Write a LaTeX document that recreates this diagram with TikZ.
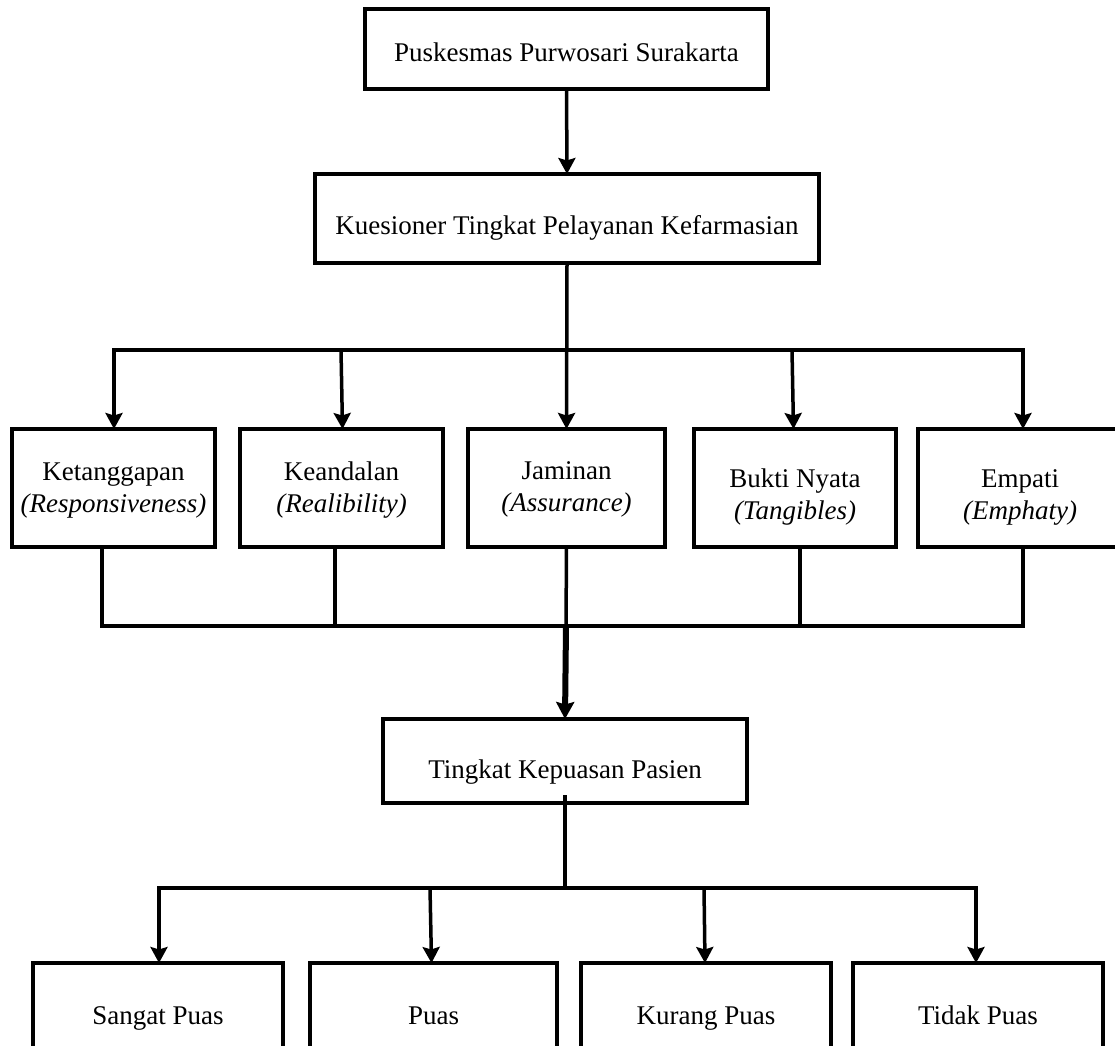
\documentclass[tikz,border=0pt]{standalone}
\usepackage{fontspec}
\setmainfont{Liberation Serif}
\usetikzlibrary{arrows.meta}
\begin{document}
\begin{tikzpicture}[x=1pt,y=-1pt,
  box/.style={draw, line width=3.5pt, rectangle, inner sep=0pt, outer sep=0pt},
  lbl/.style={font=\fontsize{27}{32}\selectfont, inner sep=0pt, anchor=base},
  conn/.style={line width=3.5pt, line cap=rect},
  arr/.style={line width=3.5pt, -{Stealth[length=16pt,width=17pt,inset=2.5pt]}},
  thickarr/.style={line width=6pt, -{Stealth[length=17pt,width=18pt,inset=2.5pt]}}]
\useasboundingbox (0,0) rectangle (1115,1045);
\fill[white] (0,0) rectangle (1115,1045);
% top boxes
\node[box, minimum width=403pt, minimum height=80pt] (top) at (566.5,49) {};
\node[lbl] (ttop) at (566.5,61) {Puskesmas Purwosari Surakarta};
\node[box, minimum width=504pt, minimum height=89pt] (kue) at (567,218.5) {};
\node[lbl] (tkue) at (567,234) {Kuesioner Tingkat Pelayanan Kefarmasian};
% row of five
\node[box, minimum width=203pt, minimum height=118pt] (A) at (113.5,488) {};
\node[box, minimum width=203pt, minimum height=118pt] (B) at (341.5,488) {};
\node[box, minimum width=197pt, minimum height=118pt] (C) at (566.5,488) {};
\node[box, minimum width=202pt, minimum height=118pt] (D) at (795,488) {};
\node[box, minimum width=204pt, minimum height=118pt] (E) at (1020,488) {};
\node[lbl] (tA1) at (113.5,480) {Ketanggapan};
\node[lbl] (tA2) at (113.5,512) {\textit{(Responsiveness)}};
\node[lbl] (tB1) at (341.5,480) {Keandalan};
\node[lbl] (tB2) at (341.5,512) {\textit{(Realibility)}};
\node[lbl] (tC1) at (566.5,479) {Jaminan};
\node[lbl] (tC2) at (566.5,511) {\textit{(Assurance)}};
\node[lbl] (tD1) at (795,487) {Bukti Nyata};
\node[lbl] (tD2) at (795,519) {\textit{(Tangibles)}};
\node[lbl] (tE1) at (1020,487) {Empati};
\node[lbl] (tE2) at (1020,519) {\textit{(Emphaty)}};
% satisfaction box
\node[box, minimum width=364pt, minimum height=84pt] (F) at (565,761) {};
\node[lbl] (tF) at (565,778) {Tingkat Kepuasan Pasien};
% bottom boxes
\node[box, minimum width=250pt, minimum height=102pt] (SA) at (158,1014) {};
\node[box, minimum width=247pt, minimum height=102pt] (SB) at (433.5,1014) {};
\node[box, minimum width=250pt, minimum height=102pt] (SC) at (706,1014) {};
\node[box, minimum width=250pt, minimum height=102pt] (SD) at (978,1014) {};
\node[lbl] (tSA) at (158,1024) {Sangat Puas};
\node[lbl] (tSB) at (433.5,1024) {Puas};
\node[lbl] (tSC) at (706,1024) {Kurang Puas};
\node[lbl] (tSD) at (978,1024) {Tidak Puas};
% coordinates
\coordinate (pA) at (114,350);
\coordinate (pB) at (341,350);
\coordinate (pD) at (792,350);
\coordinate (pE) at (1023,350);
\coordinate (lA) at (102,626);
\coordinate (lB) at (335,623);
\coordinate (lC) at (566,626);
\coordinate (lD) at (800,626);
\coordinate (lE) at (1023,626);
\coordinate (b2) at (565,888);
\coordinate (qA) at (159,888);
\coordinate (qB) at (430,888);
\coordinate (qC) at (704,888);
\coordinate (qD) at (976,888);
% connectors
\draw[arr] (top.south) -- (kue.north);
\draw[arr] (kue.south) -- (C.north);
\draw[conn] (pA) -- (pE);
\draw[arr] (pA) -- (pA |- A.north);
\draw[arr] (pB) -- ([xshift=1.5pt]pB |- B.north);
\draw[arr] (pD) -- ([xshift=1.5pt]pD |- D.north);
\draw[arr] (pE) -- (pE |- E.north);
\draw[conn] (lA |- A.south) -- (lA);
\draw[conn] (lB |- B.south) -- (lB);
\draw[conn] (C.south) -- (lC);
\draw[conn] (lD |- D.south) -- (lD);
\draw[conn] (lE |- E.south) -- (lE);
\draw[conn] (lA) -- (lE);
\draw[thickarr] (lC) -- (F.north);
\draw[conn] ([yshift=6pt]F.south) -- (b2);
\draw[conn] (qA) -- (qD);
\draw[arr] (qA) -- (qA |- SA.north);
\draw[arr] (qB) -- ([xshift=1.5pt]qB |- SB.north);
\draw[arr] (qC) -- ([xshift=1pt]qC |- SC.north);
\draw[arr] (qD) -- (qD |- SD.north);
\end{tikzpicture}
\end{document}
